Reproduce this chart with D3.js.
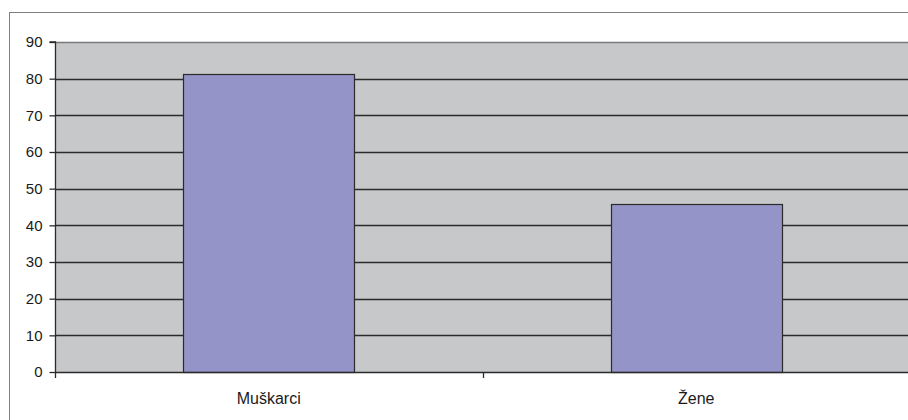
<!DOCTYPE html>
<html>
<head>
<meta charset="utf-8">
<script src="https://cdn.jsdelivr.net/npm/d3@7"></script>
<style>
  html, body { margin: 0; padding: 0; background: #fff; }
  svg { display: block; }
  text { font-family: "Liberation Sans", Arial, sans-serif; fill: #1a1a1a; }
  .yaxis text { font-size: 15px; }
</style>
</head>
<body>
<svg id="chart" width="908" height="420"></svg>
<script>
// Data
const categories = ["Muškarci", "Žene"];
const values = [81.2, 45.7];
const yTicks = [0, 10, 20, 30, 40, 50, 60, 70, 80, 90];

const svg = d3.select("#chart");
const plot = { left: 55, top: 42, right: 910, bottom: 372 };

// Outer chart frame
svg.append("rect")
  .attr("x", 9.5).attr("y", 12.5)
  .attr("width", 920).attr("height", 440)
  .attr("fill", "#fff").attr("stroke", "#7f7f7f").attr("stroke-width", 1);

const x = d3.scaleBand().domain(categories).range([plot.left, plot.right]).paddingInner(0.6).paddingOuter(0.3);
const y = d3.scaleLinear().domain([0, 90]).range([plot.bottom, plot.top]);

// Plot area background
svg.append("rect")
  .attr("x", plot.left).attr("y", plot.top)
  .attr("width", plot.right - plot.left).attr("height", plot.bottom - plot.top)
  .attr("fill", "#c7c8ca");

// Gridlines
svg.append("g").selectAll("line")
  .data(yTicks.filter(d => d > 0 && d < 90))
  .join("line")
  .attr("x1", plot.left).attr("x2", plot.right)
  .attr("y1", d => Math.round(y(d)) + 0.5).attr("y2", d => Math.round(y(d)) + 0.5)
  .attr("stroke", "#2b2b2b").attr("stroke-width", 1.3);

// Plot area top border
svg.append("line")
  .attr("x1", plot.left).attr("x2", plot.right)
  .attr("y1", plot.top + 0.5).attr("y2", plot.top + 0.5)
  .attr("stroke", "#7a7a7a").attr("stroke-width", 1.3);

// Bars
svg.append("g").selectAll("rect")
  .data(categories.map((c, i) => ({ c, v: values[i] })))
  .join("rect")
  .attr("x", d => Math.round(x(d.c)) + 0.5)
  .attr("y", d => Math.round(y(d.v)) + 0.5)
  .attr("width", d => Math.round(x.bandwidth()))
  .attr("height", d => Math.round(y(0)) - Math.round(y(d.v)))
  .attr("fill", "#9494c8")
  .attr("stroke", "#2b2b2b").attr("stroke-width", 1.2);

// Y axis
const yAxis = d3.axisLeft(y).tickValues(yTicks).tickSize(6).tickPadding(7);
const gy = svg.append("g").attr("class", "yaxis")
  .attr("transform", `translate(${plot.left + 0.5},0)`).call(yAxis)
  .attr("font-size", 15).attr("font-family", "'Liberation Sans', Arial, sans-serif");
gy.select(".domain").attr("stroke", "#2b2b2b").attr("stroke-width", 1.3).attr("d", `M-6,${plot.top}H0V${plot.bottom}`);
gy.selectAll(".tick line").attr("stroke", "#2b2b2b").attr("stroke-width", 1.3);
gy.selectAll(".tick text").attr("fill", "#1a1a1a").attr("font-size", 15);

// X axis: ticks at band boundaries
const xBoundaries = [plot.left, (plot.left + plot.right) / 2, plot.right];
const gx = svg.append("g");
gx.append("line")
  .attr("x1", plot.left).attr("x2", plot.right)
  .attr("y1", plot.bottom + 0.5).attr("y2", plot.bottom + 0.5)
  .attr("stroke", "#2b2b2b").attr("stroke-width", 1.5);
gx.selectAll("line.tk").data(xBoundaries).join("line").attr("class", "tk")
  .attr("x1", d => Math.round(d) + 0.5).attr("x2", d => Math.round(d) + 0.5)
  .attr("y1", plot.bottom).attr("y2", plot.bottom + 6)
  .attr("stroke", "#2b2b2b").attr("stroke-width", 1.3);
gx.selectAll("text").data(categories).join("text")
  .attr("x", d => x(d) + x.bandwidth() / 2)
  .attr("y", plot.bottom + 32)
  .attr("text-anchor", "middle")
  .style("font-size", "16px")
  .text(d => d);
</script>
</body>
</html>
